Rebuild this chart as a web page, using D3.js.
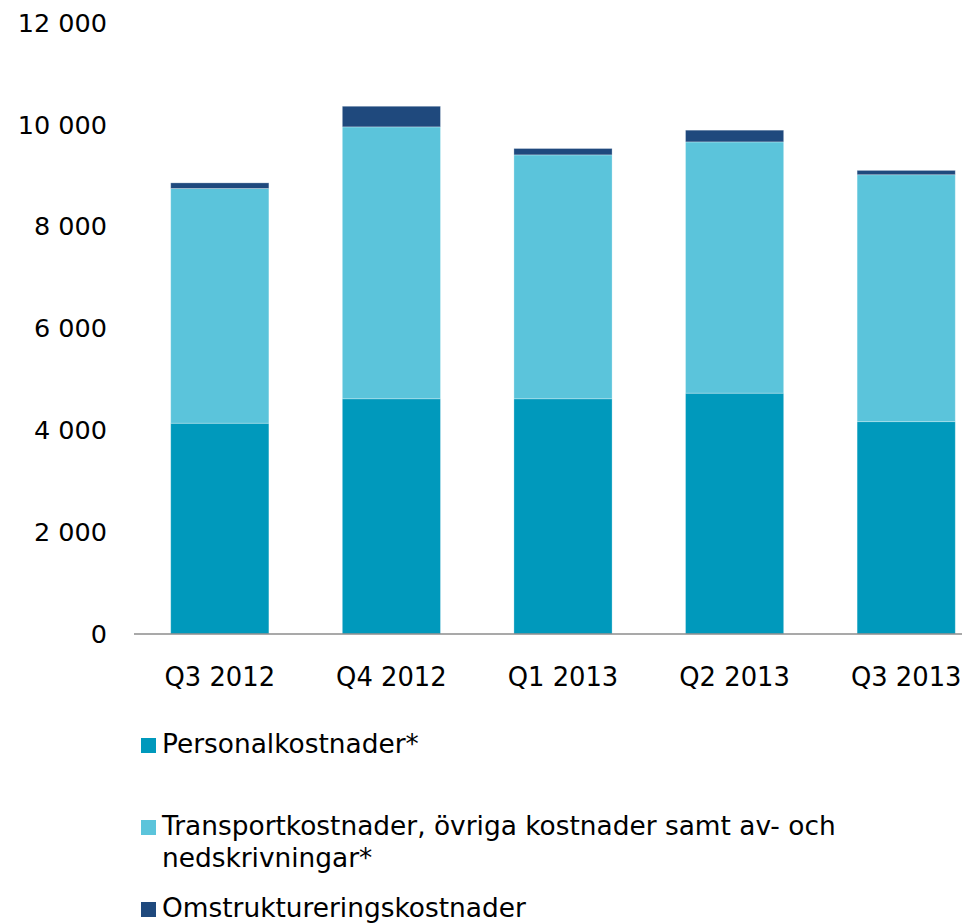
<!DOCTYPE html>
<html>
<head>
<meta charset="utf-8">
<script src="https://cdn.jsdelivr.net/npm/d3@7"></script>
<style>
  html, body { margin: 0; padding: 0; background: #fff; }
  svg { display: block; font-family: "DejaVu Sans", Verdana, sans-serif; }
</style>
</head>
<body>
<svg id="chart" width="962" height="923"></svg>
<script>
const categories = ["Q3 2012", "Q4 2012", "Q1 2013", "Q2 2013", "Q3 2013"];
const personal = [4140, 4620, 4620, 4730, 4170];
const transport = [4610, 5340, 4790, 4935, 4850];
const omstr = [110, 405, 125, 230, 85];
const seriesNames = ["Personalkostnader*", "Transportkostnader, övriga kostnader samt av- och nedskrivningar*", "Omstruktureringskostnader"];
const yTicks = [0, 2000, 4000, 6000, 8000, 10000, 12000];

const colors = ["#0099BC", "#5BC4DB", "#1F497D"];
const keys = ["personal", "transport", "omstr"];

const rows = categories.map((c, i) => ({ cat: c, personal: personal[i], transport: transport[i], omstr: omstr[i] }));
const stacked = d3.stack().keys(keys)(rows);

const svg = d3.select("#chart");
const x = d3.scaleBand().domain(categories).range([134, 992]).paddingInner(0.428).paddingOuter(0.214);
const y = d3.scaleLinear().domain([0, 12000]).range([634, 23]);

const fmt = v => d3.format(",")(v).replace(/,/g, " ");

// bars
svg.append("g").selectAll("g").data(stacked).join("g")
  .attr("fill", (d, i) => colors[i])
  .selectAll("rect").data(d => d).join("rect")
  .attr("x", d => x(d.data.cat))
  .attr("width", x.bandwidth())
  .attr("y", d => y(d[1]))
  .attr("height", d => y(d[0]) - y(d[1]))
  .attr("stroke", "rgba(255,255,255,0.35)")
  .attr("stroke-width", 0.8);

// y axis labels
const yAxis = d3.axisLeft(y).tickValues(yTicks).tickFormat(fmt).tickSize(0).tickPadding(0);
const gy = svg.append("g").attr("transform", "translate(107,0)").call(yAxis);
gy.select(".domain").remove();
gy.selectAll("text").attr("font-size", 25.5).attr("fill", "#000")
  .attr("font-family", "'DejaVu Sans', Verdana, sans-serif");

// x axis
const xAxis = d3.axisBottom(x).tickSize(0).tickPadding(0);
const gx = svg.append("g").attr("transform", "translate(0,634)").call(xAxis);
gx.select(".domain").remove();
gx.selectAll("text").attr("font-size", 25.8).attr("fill", "#000").attr("dy", null).attr("y", 52)
  .attr("font-family", "'DejaVu Sans', Verdana, sans-serif");
svg.append("line").attr("x1", 134).attr("x2", 962).attr("y1", 634).attr("y2", 634)
  .attr("stroke", "#8c8c8c").attr("stroke-width", 1.5);

// legend
const legendRows = [
  { lines: [seriesNames[0]], swY: 738, baseY: 753 },
  { lines: ["Transportkostnader, övriga kostnader samt av- och", "nedskrivningar*"], swY: 820, baseY: 835 },
  { lines: [seriesNames[2]], swY: 902, baseY: 917 }
];
const lg = svg.append("g");
legendRows.forEach((r, i) => {
  lg.append("rect").attr("x", 141).attr("y", r.swY).attr("width", 15).attr("height", 15).attr("fill", colors[i]);
  r.lines.forEach((t, j) => {
    lg.append("text").attr("x", 162).attr("y", r.baseY + j * 32)
      .attr("font-size", 26.4).attr("fill", "#000").text(t);
  });
});
</script>
</body>
</html>
